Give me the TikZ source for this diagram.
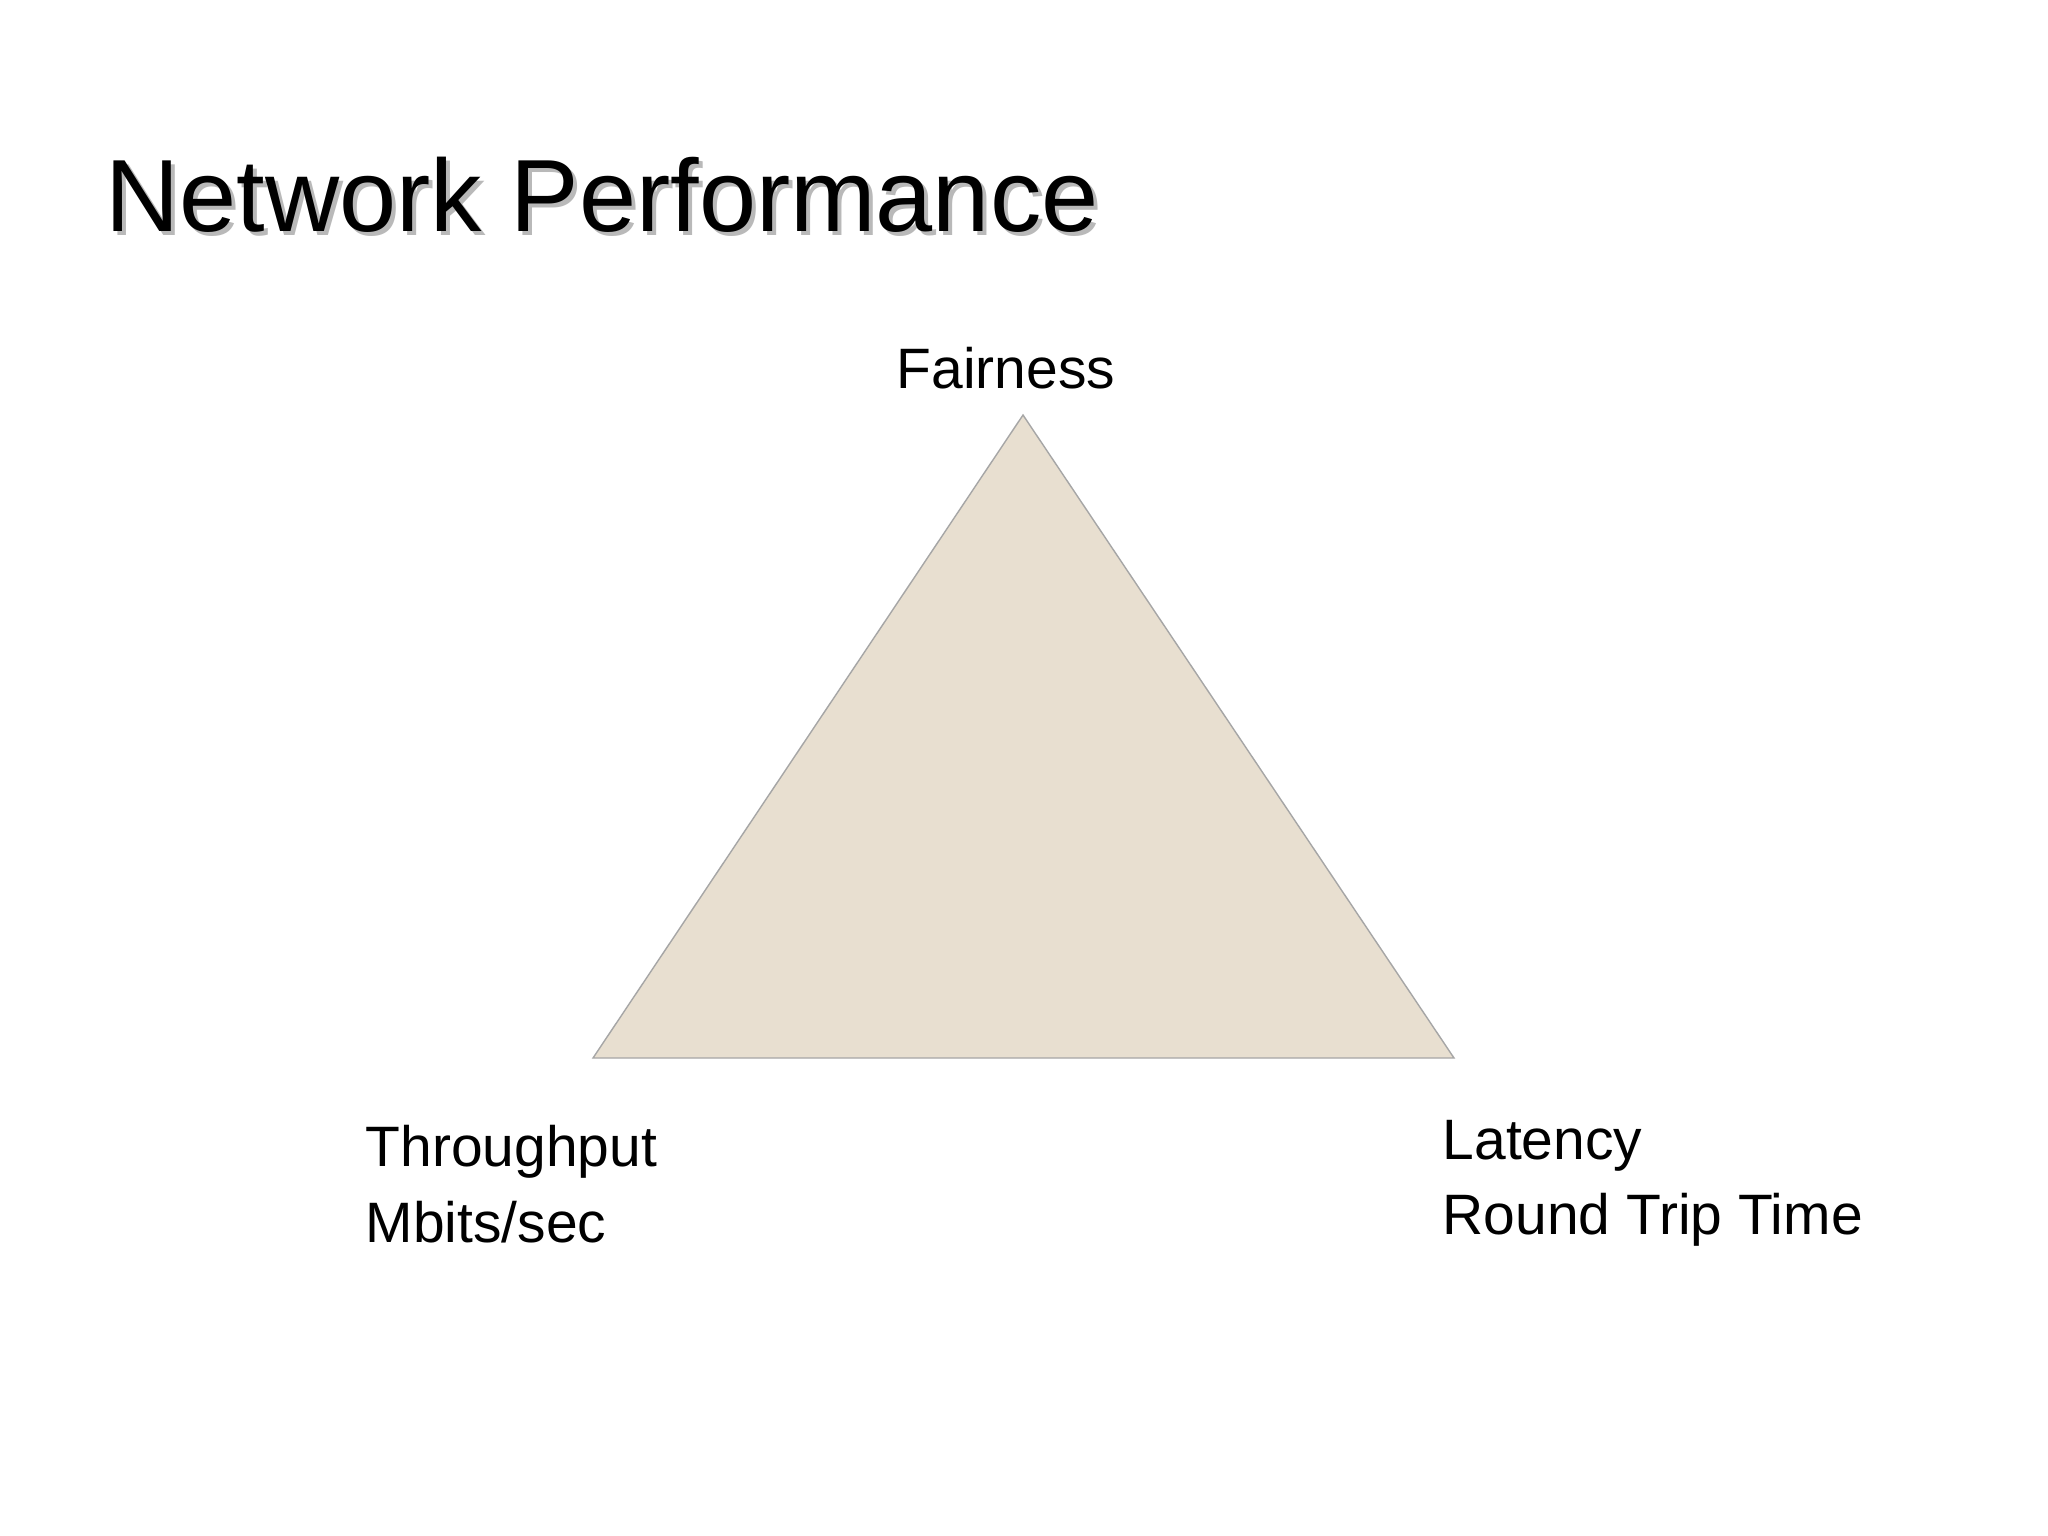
\documentclass[tikz,border=0pt]{standalone}
\usepackage{fontspec}
\setmainfont{Liberation Sans}
\definecolor{tri}{HTML}{E8DFD0}
\begin{document}
\begin{tikzpicture}[x=0.01cm,y=-0.01cm,
  lbl/.style={anchor=base west,inner sep=0pt,font=\fontsize{16.2}{16}\selectfont}]
\useasboundingbox (0,0) rectangle (2048,1535);
\fill[white] (0,0) rectangle (2048,1535);
\node[anchor=base west,inner sep=0pt,font=\fontsize{29.2}{30}\selectfont,text=gray!55] at (109,235) {Network Performance};
\node[anchor=base west,inner sep=0pt,font=\fontsize{29.2}{30}\selectfont] (title) at (105,231) {Network Performance};
\coordinate (A) at (1023,415);
\coordinate (B) at (593,1058);
\coordinate (C) at (1454,1058);
\draw[fill=tri,draw=gray!70,line width=0.4pt] (A) -- (B) -- (C) -- cycle;
\node[anchor=base,inner sep=0pt,font=\fontsize{16.2}{16}\selectfont] (f) at (1006,388) {Fairness};
\node[lbl] (t1) at (365,1166) {Throughput};
\node[lbl] (t2) at (365,1242) {Mbits/sec};
\node[lbl] (l1) at (1442,1159) {Latency};
\node[lbl] (l2) at (1442,1234) {Round Trip Time};
\end{tikzpicture}
\end{document}
